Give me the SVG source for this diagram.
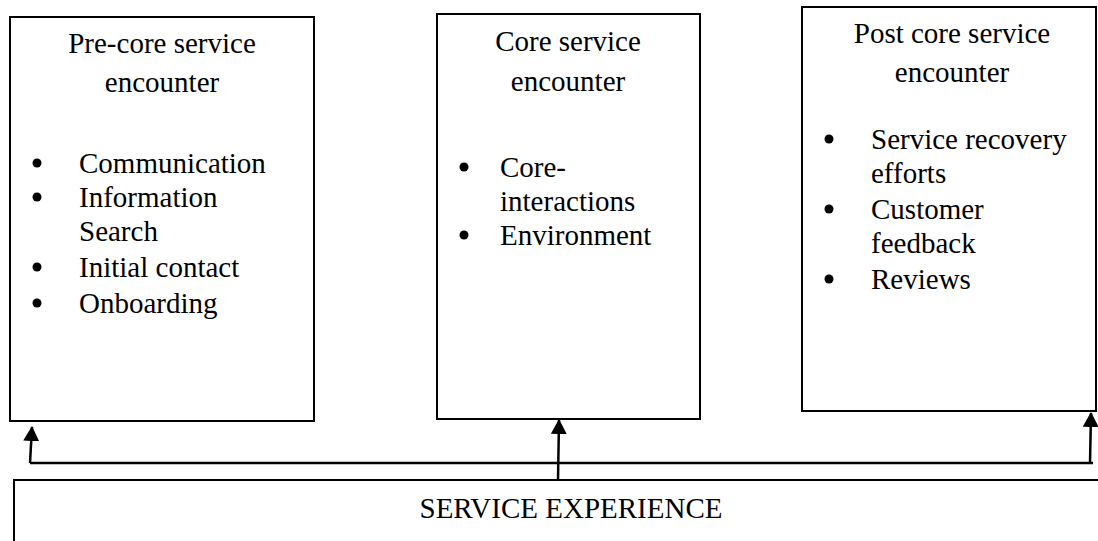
<svg xmlns="http://www.w3.org/2000/svg" width="1098" height="541" viewBox="0 0 1098 541">
  <defs>
    <style>
      .box { fill: #ffffff; stroke: #000000; stroke-width: 2; }
      .t { font-family: "Liberation Serif", "Times New Roman", serif; font-size: 29px; fill: #000000; }
      .c { text-anchor: middle; }
      .dot { fill: #000000; }
      .wire { fill: none; stroke: #000000; stroke-width: 2.5; }
    </style>
    <marker id="ah" markerUnits="userSpaceOnUse" markerWidth="16" markerHeight="16" viewBox="0 0 16 16" refX="14" refY="8" orient="auto">
      <path d="M0,0 L15,8 L0,16 Z" fill="#000000"/>
    </marker>
  </defs>
  <rect width="1098" height="541" fill="#ffffff"/>

  <g id="pre-core">
    <rect class="box" x="10" y="17" width="304" height="404"/>
    <text class="t c" x="162" y="53">Pre-core service</text>
    <text class="t c" x="162" y="92">encounter</text>
    <circle class="dot" cx="37" cy="163" r="4.5"/>
    <text class="t" x="79" y="173">Communication</text>
    <circle class="dot" cx="37" cy="197" r="4.5"/>
    <text class="t" x="79" y="207">Information</text>
    <text class="t" x="79" y="241">Search</text>
    <circle class="dot" cx="37" cy="267" r="4.5"/>
    <text class="t" x="79" y="277">Initial contact</text>
    <circle class="dot" cx="37" cy="303" r="4.5"/>
    <text class="t" x="79" y="313">Onboarding</text>
  </g>

  <g id="core">
    <rect class="box" x="437" y="14" width="263" height="405"/>
    <text class="t c" x="568" y="51">Core service</text>
    <text class="t c" x="568" y="91">encounter</text>
    <circle class="dot" cx="464" cy="167" r="4.5"/>
    <text class="t" x="500" y="177">Core-</text>
    <text class="t" x="500" y="211">interactions</text>
    <circle class="dot" cx="464" cy="235" r="4.5"/>
    <text class="t" x="500" y="245">Environment</text>
  </g>

  <g id="post-core">
    <rect class="box" x="802" y="7" width="294" height="404"/>
    <text class="t c" x="952" y="43">Post core service</text>
    <text class="t c" x="952" y="82">encounter</text>
    <circle class="dot" cx="829" cy="139" r="4.5"/>
    <text class="t" x="871" y="149">Service recovery</text>
    <text class="t" x="871" y="183">efforts</text>
    <circle class="dot" cx="829" cy="209" r="4.5"/>
    <text class="t" x="871" y="219">Customer</text>
    <text class="t" x="871" y="253">feedback</text>
    <circle class="dot" cx="829" cy="279" r="4.5"/>
    <text class="t" x="871" y="289">Reviews</text>
  </g>

  <g id="service-experience">
    <rect class="box" x="14" y="480" width="1100" height="80"/>
    <text class="t c" x="571" y="518">SERVICE EXPERIENCE</text>
  </g>

  <g id="connectors">
    <path class="wire" d="M30,463 L1093,463"/>
    <path class="wire" d="M30,463 L32,427" marker-end="url(#ah)"/>
    <path class="wire" d="M558,480 L559,420" marker-end="url(#ah)"/>
    <path class="wire" d="M1090,463 L1091,413" marker-end="url(#ah)"/>
  </g>
</svg>
